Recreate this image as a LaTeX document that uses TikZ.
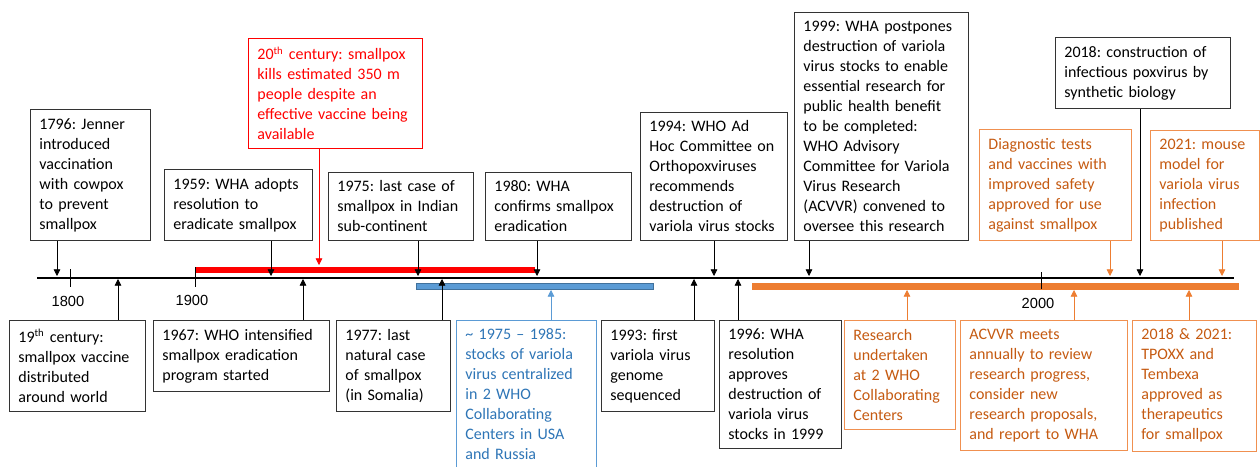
\documentclass[tikz,border=0pt]{standalone}
\usepackage{fontspec}
\setmainfont{Carlito}
\newfontfamily\yearfont{Liberation Sans}
\usetikzlibrary{arrows.meta}
\definecolor{evred}{HTML}{FF0000}
\definecolor{evblue}{HTML}{2E75B6}
\definecolor{barblue}{HTML}{5B9BD5}
\definecolor{barblueline}{HTML}{41719C}
\definecolor{evorange}{HTML}{ED7D31}
\definecolor{evorangetext}{HTML}{C55A11}
\frenchspacing

\begin{document}
\begin{tikzpicture}[x=0.75pt,y=-0.75pt,
    evt/.style={draw=black!80,line width=0.6pt,align=left,inner xsep=6.75pt,inner ysep=6.5pt,
      font=\fontsize{12}{15}\selectfont},
    above line/.style={evt,anchor=south west},
    below line/.style={evt,anchor=north west},
    redev/.style={draw=evred,text=evred},
    blueev/.style={draw=barblue,text=evblue},
    orangeev/.style={draw=evorange!85,text=evorangetext},
    link/.style={-{Triangle[width=5pt,length=5pt]},line width=0.6pt},
    year/.style={font=\yearfont\fontsize{11}{13}\selectfont}]
  \useasboundingbox (0,0) rectangle (1260,467);

  % bars and time axis
  \fill[evred] (195,267) rectangle (535,273);
  \filldraw[fill=barblue,draw=barblueline,line width=0.5pt] (416,283) rectangle (653,289);
  \fill[evorange] (752,283) rectangle (1239,290);
  \draw[line width=1.5pt] (37,277.5) -- (1234,277.5);
  \draw[line width=0.6pt] (70,269) -- (70,287) (195,267) -- (195,287) (1041,272) -- (1041,289);
  \node[year] (y1800) at (68,301) {1800};
  \node[year] (y1900) at (192,300) {1900};
  \node[year] (y2000) at (1038,303) {2000};

  % events above the axis
  \node[above line,text width=76.5pt] (jenner) at (30,241)
    {1796: Jenner\\introduced\\vaccination\\with cowpox\\to prevent\\smallpox};
  \node[above line,text width=97.5pt] (wha59) at (164,241)
    {1959: WHA adopts\\resolution to\\eradicate smallpox};
  \node[above line,redev,text width=117pt] (cent20) at (248,149)
    {20\textsuperscript{th} century: smallpox\\kills estimated 350 m\\people despite an\\effective vaccine being\\available};
  \node[above line,text width=95.25pt] (india75) at (328,241)
    {1975: last case of\\smallpox in Indian\\sub-continent};
  \node[above line,text width=96pt] (wha80) at (485,241)
    {1980: WHA\\confirms smallpox\\eradication};
  \node[above line,text width=96.75pt] (adhoc94) at (640,241)
    {1994: WHO Ad\\Hoc Committee on\\Orthopoxviruses\\recommends\\destruction of\\variola virus stocks};
  \node[above line,text width=117pt] (wha99) at (794,241)
    {1999: WHA postpones\\destruction of variola\\virus stocks to enable\\essential research for\\public health benefit\\to be completed:\\WHO Advisory\\Committee for Variola\\Virus Research\\(ACVVR) convened to\\oversee this research};
  \node[above line,text width=117.75pt] (synth18) at (1055,109)
    {2018: construction of\\infectious poxvirus by\\synthetic biology};
  \node[above line,orangeev,text width=100.5pt] (diag) at (979,241)
    {Diagnostic tests\\and vaccines with\\improved safety\\approved for use\\against smallpox};
  \node[above line,orangeev,text width=68.25pt] (mouse21) at (1150,241)
    {2021: mouse\\model for\\variola virus\\infection\\published};

  % events below the axis
  \node[below line,text width=88.5pt] (cent19) at (9,320)
    {19\textsuperscript{th} century:\\smallpox vaccine\\distributed\\around world};
  \node[below line,text width=118.5pt] (who67) at (153,320)
    {1967: WHO intensified\\smallpox eradication\\program started};
  \node[below line,text width=72pt] (somalia77) at (336,320)
    {1977: last\\natural case\\of smallpox\\(in Somalia)};
  \node[below line,blueev,text width=91.5pt] (stocks) at (456,320)
    {\textasciitilde\ 1975 – 1985:\\stocks of variola\\virus centralized\\in 2 WHO\\Collaborating\\Centers in USA\\and Russia};
  \node[below line,text width=71.25pt] (genome93) at (601,320)
    {1993: first\\variola virus\\genome\\sequenced};
  \node[below line,text width=78pt] (wha96) at (719,320)
    {1996: WHA\\resolution\\approves\\destruction of\\variola virus\\stocks in 1999};
  \node[below line,orangeev,text width=69.75pt] (research) at (844,320)
    {Research\\undertaken\\at 2 WHO\\Collaborating\\Centers};
  \node[below line,orangeev,text width=111.75pt] (acvvr) at (960,320)
    {ACVVR meets\\annually to review\\research progress,\\consider new\\research proposals,\\and report to WHA};
  \node[below line,orangeev,text width=79.5pt] (tpoxx) at (1132,320)
    {2018 \& 2021:\\TPOXX and\\Tembexa\\approved as\\therapeutics\\for smallpox};

  % points on the axis
  \coordinate (t1796) at (57,276);
  \coordinate (t1959) at (271,276);
  \coordinate (t20c) at (319,265);
  \coordinate (t1975) at (418,276);
  \coordinate (t1980) at (537,276);
  \coordinate (t1994) at (714,276);
  \coordinate (t1999) at (809,276);
  \coordinate (t2018) at (1140,276);
  \coordinate (tdiag) at (1110,276);
  \coordinate (t2021) at (1222,276);
  \coordinate (t19c) at (118,279);
  \coordinate (t1967) at (303,279);
  \coordinate (t1977) at (442,279);
  \coordinate (tstock) at (551,290);
  \coordinate (t1993) at (694,279);
  \coordinate (t1996) at (738,279);
  \coordinate (tres) at (907,290);
  \coordinate (tacvvr) at (1074,290);
  \coordinate (ttpoxx) at (1189,290);

  \draw[link] (jenner.south -| t1796) -- (t1796);
  \draw[link] (wha59.south -| t1959) -- (t1959);
  \draw[link,evred] (cent20.south -| t20c) -- (t20c);
  \draw[link] (india75.south -| t1975) -- (t1975);
  \draw[link] (wha80.south -| t1980) -- (t1980);
  \draw[link] (adhoc94.south -| t1994) -- (t1994);
  \draw[link] (wha99.south -| t1999) -- (t1999);
  \draw[link] (synth18.south -| t2018) -- (t2018);
  \draw[link,evorange] (diag.south -| tdiag) -- (tdiag);
  \draw[link,evorange] (mouse21.south -| t2021) -- (t2021);
  \draw[link] (cent19.north -| t19c) -- (t19c);
  \draw[link] (who67.north -| t1967) -- (t1967);
  \draw[link] (somalia77.north -| t1977) -- (t1977);
  \draw[link,barblue] (stocks.north -| tstock) -- (tstock);
  \draw[link] (genome93.north -| t1993) -- (t1993);
  \draw[link] (wha96.north -| t1996) -- (t1996);
  \draw[link,evorange] (research.north -| tres) -- (tres);
  \draw[link,evorange] (acvvr.north -| tacvvr) -- (tacvvr);
  \draw[link,evorange] (tpoxx.north -| ttpoxx) -- (ttpoxx);
\end{tikzpicture}
\end{document}
